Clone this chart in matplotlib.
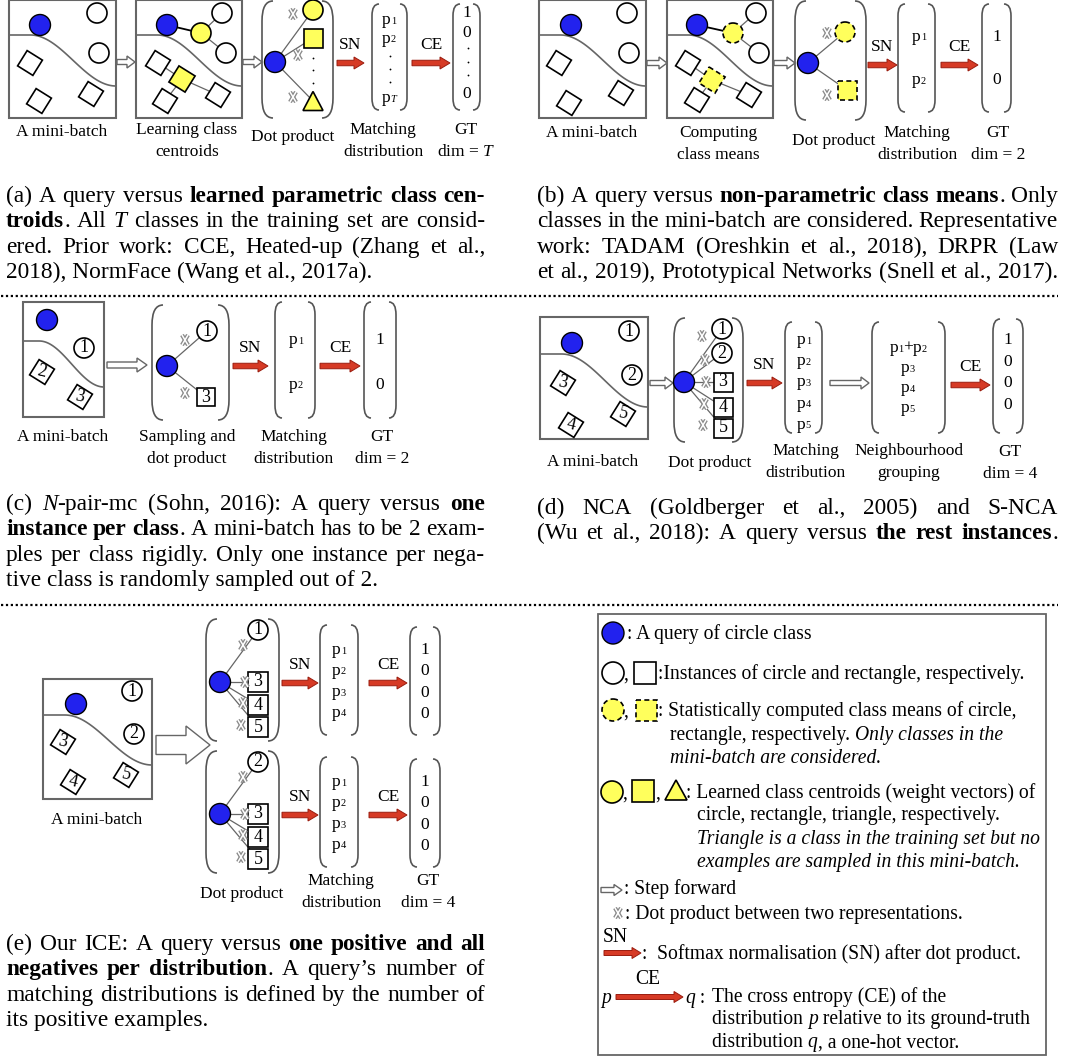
import numpy as np
import matplotlib
matplotlib.use('Agg')
import matplotlib.pyplot as plt
from matplotlib.patches import Circle, Rectangle, Polygon, FancyArrow, PathPatch
from matplotlib.path import Path

plt.rcParams['font.family'] = ['Liberation Serif', 'DejaVu Serif']
plt.rcParams['mathtext.fontset'] = 'custom'
plt.rcParams['mathtext.rm'] = 'Liberation Serif'
plt.rcParams['mathtext.it'] = 'Liberation Serif:italic'

# ---- content -------------------------------------------------------------
match_a = ['1', '2', '.', '.', '.', 'T']
gt_a = ['1', '0', '.', '.', '.', '0']
match_b = ['1', '2']
gt_b = ['1', '0']
match_c = ['1', '2']
gt_c = ['1', '0']
match_d = ['1', '2', '3', '4', '5']
group_d = [['1', '2'], ['3'], ['4'], ['5']]
gt_d = ['1', '0', '0', '0']
match_e = ['1', '2', '3', '4']
gt_e = ['1', '0', '0', '0']
pos_e = ['1', '2']
neg_e = ['3', '4', '5']

cap_a = [[("(a) A query versus ", ''), ("learned parametric class cen-", 'b')],
         [("troids", 'b'), (". All ", ''), ("T", 'i'), (" classes in the training set are consid-", '')],
         [("ered.  Prior work: CCE, Heated-up (Zhang et al.,", '')],
         [("2018), NormFace (Wang et al., 2017a).", '')]]
cap_b = [[("(b) A query versus ", ''), ("non-parametric class means", 'b'), (". Only", '')],
         [("classes in the mini-batch are considered. Representative", '')],
         [("work:  TADAM (Oreshkin et al., 2018), DRPR (Law", '')],
         [("et al., 2019), Prototypical Networks (Snell et al., 2017).", '')]]
cap_c = [[("(c) ", ''), ("N", 'i'), ("-pair-mc (Sohn, 2016):  A query versus ", ''), ("one", 'b')],
         [("instance per class", 'b'), (". A mini-batch has to be 2 exam-", '')],
         [("ples per class rigidly.  Only one instance per nega-", '')],
         [("tive class is randomly sampled out of 2.", '')]]
cap_d = [[("(d) NCA (Goldberger et al., 2005) and S-NCA", '')],
         [("(Wu et al., 2018):  A query versus ", ''), ("the rest instances", 'b'), (".", '')]]
cap_e = [[("(e) Our ICE: A query versus ", ''), ("one positive and all", 'b')],
         [("negatives per distribution", 'b'), (".  A query\u2019s number of", '')],
         [("matching distributions is defined by the number of", '')],
         [("its positive examples.", '')]]

# ---- canvas --------------------------------------------------------------
W, H = 1067, 1057
fig = plt.figure(figsize=(W / 100, H / 100), dpi=100)
ax = fig.add_axes([0, 0, 1, 1])
ax.set_xlim(0, W)
ax.set_ylim(H, 0)
ax.axis('off')
renderer = fig.canvas.get_renderer()

BLUE = '#2222ee'
YELLOW = '#ffff5c'
RED = '#d63a25'
GREY = '#666666'
LAB = 12.5
CAP = 16.8
LEG = 14.1


def query(x, y, r=10.5):
    ax.add_patch(Circle((x, y), r, fc=BLUE, ec='black', lw=1.0, zorder=5))


def circ(x, y, label='', r=10, fc='white', ls='-'):
    ax.add_patch(Circle((x, y), r, fc=fc, ec='black', lw=1.2, ls=ls, zorder=5))
    if label:
        ax.text(x, y, label, ha='center', va='center', fontsize=13, zorder=6)


def square(x, y, label='', s=18, ang=0, fc='white', ls='-'):
    ax.add_patch(Rectangle((x - s / 2, y - s / 2), s, s, angle=ang, rotation_point='center',
                           fc=fc, ec='black', lw=1.2, ls=ls, zorder=5))
    if label:
        ax.text(x, y, label, ha='center', va='center', fontsize=13, rotation=-ang * 0.4, zorder=6)


def triangle(x, y, s=20, h=19):
    ax.add_patch(Polygon([(x - s / 2, y + h / 2), (x + s / 2, y + h / 2), (x, y - h / 2)],
                         closed=True, fc=YELLOW, ec='black', lw=1.2, zorder=5))


def link(p, q, c=GREY, lw=0.9):
    ax.plot([p[0], q[0]], [p[1], q[1]], color=c, lw=lw, zorder=3)


def dot_mark(x, y, h=10, w=6):
    segs = [([x - w / 2, x + w / 2], [y - h / 2, y + h / 2]), ([x - w / 2, x + w / 2], [y + h / 2, y - h / 2])]
    for xs, ys in segs:
        ax.plot(xs, ys, color='#8a8a8a', lw=3.0, solid_capstyle='butt', zorder=7)
    for xs, ys in segs:
        ax.plot(xs, ys, color='white', lw=1.1, solid_capstyle='butt', zorder=8)


def vdots(x, ys):
    ax.plot([x] * len(ys), ys, ls='none', marker='o', ms=1.3, mew=0, color='black', zorder=6)


def bracket(x0, x1, y0, y1, curl=7, r=None):
    r = r or max(10, 0.11 * (y1 - y0))
    for xi, xe in ((x0, x0 + curl), (x1, x1 - curl)):
        verts = [(xe, y0), (xi, y0), (xi, y0 + r), (xi, y1 - r), (xi, y1), (xe, y1)]
        codes = [Path.MOVETO, Path.CURVE3, Path.CURVE3, Path.LINETO, Path.CURVE3, Path.CURVE3]
        ax.add_patch(PathPatch(Path(verts, codes), fc='none', ec='#555555', lw=1.2, zorder=2))


def red_arrow(x0, x1, y, label=None, w=5.5, hw=12, hl=10):
    ax.add_patch(FancyArrow(x0, y, x1 - x0, 0, width=w, head_width=hw, head_length=hl,
                            length_includes_head=True, fc=RED, ec='#9a1c0e', lw=0.7, zorder=4))
    if label:
        ax.text((x0 + x1) / 2, y - 18, label, ha='center', va='center', fontsize=LAB)


def step_arrow(x0, x1, y, w=5, hw=12, hl=8):
    ax.add_patch(FancyArrow(x0, y, x1 - x0, 0, width=w, head_width=hw, head_length=hl,
                            length_includes_head=True, fc='white', ec=GREY, lw=1.0, zorder=4))


def minibatch(x0, y0, x1, y1, c0, c1):
    ax.add_patch(Rectangle((x0, y0), x1 - x0, y1 - y0, fc='white', ec=GREY, lw=1.5, zorder=1))
    t = np.linspace(0, 1, 100)
    u = np.clip((t - 0.2) / 0.8, 0, 1)
    ax.plot(x0 + t * (x1 - x0), c0 + (c1 - c0) * (1 - np.cos(np.pi * u)) / 2,
            color=GREY, lw=1.2, zorder=2)


def compose(xc, y, pieces, size=LAB, pad=0.0):
    arts = []
    for txt, scale, st in pieces:
        dy = 1.0 if scale < 1 else 0
        t = ax.text(0, y + dy, txt, ha='left', va='center', fontsize=size * scale,
                    fontstyle='italic' if 'i' in st else 'normal')
        arts.append((t, t.get_window_extent(renderer).width))
    total = sum(w for _, w in arts) + pad * (len(arts) - 1)
    cx = xc - total / 2
    for t, w in arts:
        t.set_x(cx)
        cx += w + pad


def p_entry(xc, y, idx):
    compose(xc, y, [('p', 1.0, ''), (idx, 0.6, 'i' if idx == 'T' else '')])


def column(xc, ys, entries, kind='n'):
    dots = [y for y, e in zip(ys, entries) if e == '.']
    if dots:
        vdots(xc + 1, dots)
    for y, e in zip(ys, entries):
        if e == '.':
            continue
        if kind == 'p':
            p_entry(xc, y, e)
        else:
            ax.text(xc, y, e, ha='center', va='center', fontsize=LAB)


def label(x, y, lines, dy=22):
    for k, s in enumerate(lines):
        ax.text(x, y + k * dy, s, ha='center', va='center', fontsize=LAB)


def ink(s, kw):
    t = ax.text(0, 0, s, **kw)
    w = t.get_window_extent(renderer).width
    t.remove()
    return w


def advance(s, kw):
    # advance width: ink of 'I'+s+'I' minus ink of 'II'
    return ink('I' + s + 'I', kw) - ink('II', kw)


def style_kw(st, size):
    return dict(fontsize=size, fontweight='bold' if 'b' in st else 'normal',
                fontstyle='italic' if 'i' in st else 'normal')


def plain_line(x, yb, parts, size):
    # one text per style run, placed by advance width
    cx = x
    for txt, st in parts:
        kw = style_kw(st, size)
        ax.text(cx, yb, txt, va='baseline', ha='left', **kw)
        cx += advance(txt, kw)


def rich_line(x, yb, parts, width=None, size=CAP):
    if width is None:
        plain_line(x, yb, parts, size)
        return
    words = [[]]
    for txt, st in parts:
        for k, ch in enumerate(txt.split(' ')):
            if k:
                words.append([])
            if ch:
                words[-1].append((ch, st))
    words = [w for w in words if w]
    items, widths = [], []
    for w in words:
        arts = []
        for ch, st in w:
            kw = style_kw(st, size)
            t = ax.text(0, yb, ch, va='baseline', ha='left', **kw)
            arts.append((t, advance(ch, kw)))
        items.append(arts)
        widths.append(sum(a[1] for a in arts))
    gap = (width - sum(widths)) / max(len(items) - 1, 1)
    cx = x
    for arts, ww in zip(items, widths):
        sx = cx
        for t, w in arts:
            t.set_x(sx)
            sx += w
        cx += ww + gap


def caption(x, yb0, lines, width, last_full=False, dy=25.3):
    for k, parts in enumerate(lines):
        full = k < len(lines) - 1 or last_full
        rich_line(x, yb0 + k * dy, parts, width if full else None)


def leg_text(x, yc, parts):
    plain_line(x, yc + 0.33 * LEG / 0.72, parts, LEG)


# ---- separators ----------------------------------------------------------
for ys in (296, 605):
    ax.plot([1, 1058], [ys, ys], color='black', lw=1.6, ls=(0, (1, 1.2)), zorder=1)

# ---- (a) -------------------------------------------------------------------
minibatch(9, 0, 116, 118, 35, 86)
query(40, 25)
circ(97, 13); circ(99, 53)
for (x, y) in [(30, 63), (39, 101), (91, 94)]:
    square(x, y, ang=32)
step_arrow(117, 135, 62)
minibatch(136, 0, 242, 118, 35, 86)
link((167, 25), (201, 33), c='black', lw=1.3)
for q in [(222, 13), (226, 53)]:
    link((201, 33), q)
    circ(*q)
for q in [(158, 63), (165, 101), (218, 95)]:
    link((182, 79), q)
    square(*q, ang=32)
query(167, 25)
circ(201, 33, fc=YELLOW)
square(182, 79, s=19, ang=32, fc=YELLOW)
step_arrow(243, 262, 62)
bracket(262, 333, 1, 118, curl=11, r=20)
for q in [(313, 10), (313, 38), (313, 101)]:
    link((275, 62), q)
query(275, 62)
circ(313, 10, fc=YELLOW)
square(313, 38, s=19, fc=YELLOW)
triangle(313, 101)
vdots(313, [58, 70, 83])
for (x, y) in [(293, 14), (298, 55), (293, 97)]:
    dot_mark(x, y)
red_arrow(337, 364, 63, 'SN')
bracket(372, 407, 4, 110)
column(389, [20, 39, 56, 69, 82, 98], match_a, 'p')
red_arrow(412, 450, 63, 'CE')
bracket(453, 480, 4, 110)
column(467, [13, 33, 48, 62, 75, 94], gt_a)
label(62, 132, ['A mini-batch'])
label(187, 130, ['Learning class', 'centroids'])
label(293, 137, ['Dot product'])
label(383, 130, ['Matching', 'distribution'])
label(466, 130, ['GT', 'dim = $T$'])
caption(6, 202, cap_a, 479)

# ---- (b) -------------------------------------------------------------------
minibatch(539, 0, 646, 118, 35, 86)
query(571, 25)
circ(627, 13); circ(629, 53)
for (x, y) in [(559, 63), (569, 103), (621, 93)]:
    square(x, y, ang=32)
step_arrow(647, 667, 63)
minibatch(667, 0, 773, 118, 35, 86)
link((697, 25), (733, 33), c='black', lw=1.3)
for q in [(756, 13), (759, 53)]:
    link((733, 33), q)
    circ(*q)
for q in [(688, 63), (697, 100), (749, 95)]:
    link((712, 80), q)
    square(*q, ang=32)
query(697, 25)
circ(733, 33, fc=YELLOW, ls=(0, (3, 2)))
square(712, 80, s=19, ang=32, fc=YELLOW, ls=(0, (3, 2)))
step_arrow(774, 795, 63)
bracket(795, 866, 1, 120, curl=11, r=20)
for q in [(845, 32), (847, 90)]:
    link((808, 63), q)
query(808, 63)
circ(845, 32, fc=YELLOW, ls=(0, (3, 2)))
square(847, 90, s=19, fc=YELLOW, ls=(0, (3, 2)))
dot_mark(827, 33); dot_mark(827, 95)
red_arrow(868, 897, 65, 'SN')
bracket(898, 935, 4, 112)
column(919, [37, 80], match_b, 'p')
red_arrow(941, 978, 65, 'CE')
bracket(982, 1011, 4, 112)
column(997, [37, 80], gt_b)
label(592, 133, ['A mini-batch'])
label(718, 133, ['Computing', 'class means'])
label(834, 141, ['Dot product'])
label(917, 133, ['Matching', 'distribution'])
label(998, 133, ['GT', 'dim = 2'])
caption(537, 202, cap_b, 521, last_full=True)

# ---- (c) -------------------------------------------------------------------
minibatch(23, 302, 104, 417, 341, 387)
query(47, 320)
circ(84, 348, match_c[0])
square(42, 372, '2', ang=32)
square(80, 397, '3', ang=32)
step_arrow(107, 147, 365, w=6, hw=14, hl=10)
bracket(152, 229, 305, 420, curl=11, r=20)
link((167, 366), (207, 331)); link((167, 366), (206, 397))
query(167, 366)
circ(207, 331, '1')
square(206, 397, '3', s=18)
dot_mark(185, 340); dot_mark(185, 393)
red_arrow(233, 268, 366, 'SN')
bracket(275, 315, 302, 418)
column(296, [340, 385], match_c, 'p')
red_arrow(320, 360, 366, 'CE')
bracket(364, 396, 302, 418)
column(380, [340, 385], gt_c)
label(63, 437, ['A mini-batch'])
label(187, 437, ['Sampling and', 'dot product'])
label(294, 437, ['Matching', 'distribution'])
label(382, 437, ['GT', 'dim = 2'])
caption(6, 510, cap_c, 479)

# ---- (d) -------------------------------------------------------------------
minibatch(540, 317, 648, 439, 354, 407)
query(572, 343)
circ(629, 331, '1'); circ(632, 375, '2')
square(563, 383, '3', ang=32)
square(571, 425, '4', ang=32)
square(623, 414, '5', ang=32)
step_arrow(650, 673, 383)
bracket(674, 743, 318, 442, curl=11, r=20)
targets_d = [(722, 329), (722, 353), (723, 382), (723, 407), (723, 428)]
for q in targets_d:
    link((684, 382), q)
query(684, 382)
circ(*targets_d[0], match_d[0]); circ(*targets_d[1], match_d[1])
for q, s in zip(targets_d[2:], match_d[2:]):
    square(*q, s, s=19)
for (x, y) in [(702, 336), (705, 360), (706, 382), (704, 404), (703, 425)]:
    dot_mark(x, y)
red_arrow(747, 782, 383, 'SN')
bracket(785, 822, 322, 433)
column(804, np.linspace(340, 425, len(match_d)), match_d, 'p')
step_arrow(830, 869, 383)
bracket(872, 945, 322, 433)
for y, grp in zip(np.linspace(348, 408, len(group_d)), group_d):
    pieces = []
    for k, g in enumerate(grp):
        if k:
            pieces.append(('+', 1.0, ''))
        pieces += [('p', 1.0, ''), (g, 0.6, '')]
    compose(908, y, pieces)
red_arrow(951, 990, 385, 'CE')
bracket(993, 1023, 319, 433)
column(1008, np.linspace(340, 405, len(gt_d)), gt_d)
label(593, 462, ['A mini-batch'])
label(710, 463, ['Dot product'])
label(806, 451, ['Matching', 'distribution'])
label(909, 451, ['Neighbourhood', 'grouping'])
label(1010, 452, ['GT', 'dim = 4'])
caption(537, 514, cap_d, 521, last_full=True)

# ---- (e) -------------------------------------------------------------------
minibatch(43, 679, 152, 799, 715, 765)
query(76, 704)
circ(132, 691, pos_e[0]); circ(134, 734, pos_e[1])
square(63, 742, neg_e[0], ang=32)
square(73, 782, neg_e[1], ang=32)
square(126, 775, neg_e[2], ang=32)
step_arrow(156, 210, 745, w=19, hw=38, hl=24)
marks_e = [(243, 645), (245, 682), (243, 703), (241, 725)]
for k, pos in enumerate(pos_e):
    dy = 132 * k
    bracket(206, 279, 619 + dy, 741 + dy, curl=11, r=20)
    qy = 682 + dy
    items = [(258, 630 + dy), (258, 682 + dy), (258, 705 + dy), (258, 727 + dy)]
    for q in items:
        link((220, qy), q)
    query(220, qy)
    circ(*items[0], pos)
    for q, s in zip(items[1:], neg_e):
        square(*q, s, s=20)
    for (x, y) in marks_e:
        dot_mark(x, y + dy)
    red_arrow(282, 318, 683 + dy, 'SN')
    bracket(320, 358, 625 + dy, 735 + dy)
    column(339, np.linspace(650, 713, len(match_e)) + dy, match_e, 'p')
    red_arrow(369, 407, 683 + dy, 'CE')
    bracket(410, 440, 627 + dy, 735 + dy)
    column(425, np.linspace(650, 714, len(gt_e)) + dy, gt_e)
label(97, 820, ['A mini-batch'])
label(242, 894, ['Dot product'])
label(341, 881, ['Matching', 'distribution'])
label(428, 881, ['GT', 'dim = 4'])
caption(6, 950, cap_e, 479)

# ---- legend ----------------------------------------------------------------
ax.add_patch(Rectangle((598, 614), 448, 441, fc='none', ec=GREY, lw=1.3, zorder=1))

query(613, 633, r=11)
leg_text(627, 633, [(": A query of circle class", '')])
circ(613, 673, r=11)
leg_text(623, 673, [(",", '')])
square(645, 673, s=22)
leg_text(658, 673, [(":Instances of circle and rectangle, respectively.", '')])
circ(613, 710, r=11, fc=YELLOW, ls=(0, (3, 2)))
leg_text(623, 710, [(",", '')])
square(646, 710, s=21, fc=YELLOW, ls=(0, (3, 2)))
leg_text(658, 710, [(": Statistically computed class means of circle,", '')])
leg_text(670, 734, [("rectangle, respectively. ", ''), ("Only classes in the", 'i')])
leg_text(670, 757, [("mini-batch are considered.", 'i')])
circ(612, 792, r=11, fc=YELLOW)
leg_text(622, 792, [(",", '')])
square(643, 791, s=22, fc=YELLOW)
leg_text(655, 792, [(",", '')])
triangle(676, 790, s=22, h=20)
leg_text(686, 792, [(": Learned class centroids (weight vectors) of", '')])
leg_text(697, 814, [("circle, rectangle, triangle, respectively.", '')])
leg_text(697, 838, [("Triangle is a class in the training set but no", 'i')])
leg_text(697, 861, [("examples are sampled in this mini-batch.", 'i')])
step_arrow(601, 622, 890, w=5, hw=11, hl=8)
leg_text(624, 888, [(": Step forward", '')])
dot_mark(618, 913)
leg_text(625, 913, [(": Dot product between two representations.", '')])
ax.text(615, 938, 'SN', ha='center', va='center', fontsize=LEG)
red_arrow(604, 641, 953, w=5, hw=11, hl=9)
leg_text(642, 953, [(":  Softmax normalisation (SN) after dot product.", '')])
ax.text(648, 979, 'CE', ha='center', va='center', fontsize=LEG)
leg_text(601, 997, [("p", 'i')])
red_arrow(616, 683, 997, w=5, hw=11, hl=9)
leg_text(685, 997, [("q", 'i'), (" :", '')])
leg_text(712, 996, [("The cross entropy (CE) of the", '')])
leg_text(712, 1018, [("distribution ", ''), ("p", 'i'), (" relative to its ground-truth", '')])
leg_text(712, 1041, [("distribution ", ''), ("q", 'i'), (", a one-hot vector.", '')])

fig.savefig('out.png', dpi=100)
